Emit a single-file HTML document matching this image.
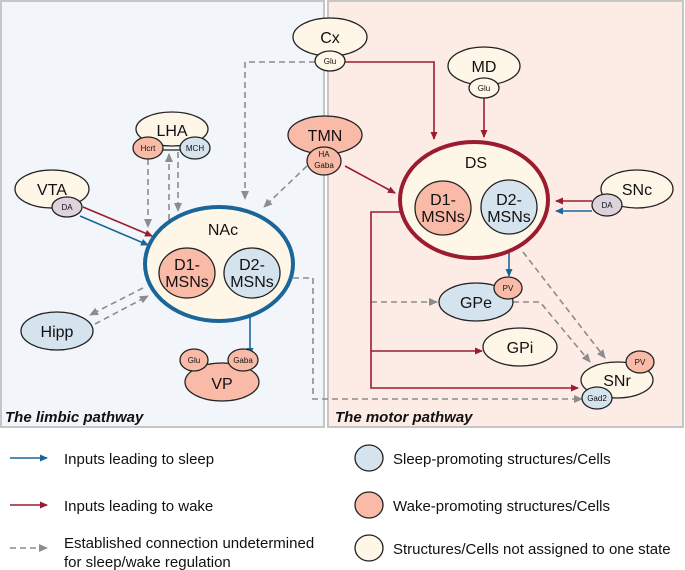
<!DOCTYPE html>
<html><head><meta charset="utf-8"><style>body{margin:0;background:#fff}svg{display:block}text{font-family:"Liberation Sans",sans-serif;fill:#111}</style></head><body>
<svg width="685" height="570" viewBox="0 0 685 570" xmlns="http://www.w3.org/2000/svg">
<defs>
<marker id="ar" markerWidth="8" markerHeight="8" refX="7" refY="4" orient="auto" markerUnits="userSpaceOnUse"><path d="M0,0.5 L8,4 L0,7.5z" fill="#9b1c2e"/></marker>
<marker id="ab" markerWidth="8" markerHeight="8" refX="7" refY="4" orient="auto" markerUnits="userSpaceOnUse"><path d="M0,0.5 L8,4 L0,7.5z" fill="#1a6699"/></marker>
<marker id="ag" markerWidth="9" markerHeight="9" refX="8" refY="4.5" orient="auto" markerUnits="userSpaceOnUse"><path d="M0,0.5 L9,4.5 L0,8.5z" fill="#8c8c8c"/></marker>
</defs>
<rect x="1" y="1" width="323" height="426" fill="#f2f6fa" stroke="#c6c6c6" stroke-width="2"/>
<rect x="328" y="1" width="355" height="426" fill="#fdece6" stroke="#c6c6c6" stroke-width="2"/>

<g fill="none" stroke-width="1.6">
<!-- gray dashed -->
<g stroke="#8c8c8c" stroke-dasharray="6,4">
<path d="M315,62 H245 V199" marker-end="url(#ag)"/>
<path d="M307,166 L264,207" marker-end="url(#ag)"/>
<path d="M148,159 V227" marker-end="url(#ag)"/>
<path d="M169,250 V154" marker-end="url(#ag)"/>
<path d="M178,152 V211" marker-end="url(#ag)"/>
<path d="M143,288 L90,315" marker-end="url(#ag)"/>
<path d="M95,324 L148,296" marker-end="url(#ag)"/>
<path d="M293,278 H313 V399 H582" marker-end="url(#ag)"/>
<path d="M371,302 H437" marker-end="url(#ag)"/>
<path d="M523,252 L605,358" marker-end="url(#ag)"/>
<path d="M513,302 H540 L590,362" marker-end="url(#ag)"/>
</g>
<g stroke="#9b1c2e">
<path d="M345,62 H434 V139" marker-end="url(#ar)"/>
<path d="M484,98 V137" marker-end="url(#ar)"/>
<path d="M345,166 L395,193" marker-end="url(#ar)"/>
<path d="M83,207 L152,236" marker-end="url(#ar)"/>
<path d="M413,212 H371 V388 H578" marker-end="url(#ar)"/>
<path d="M371,351 H482" marker-end="url(#ar)"/>
<path d="M592,201 H556" marker-end="url(#ar)"/>
</g>
<g stroke="#1a6699">
<path d="M80,216 L148,245" marker-end="url(#ab)"/>
<path d="M250,300 V355" marker-end="url(#ab)"/>
<path d="M509,234 V276" marker-end="url(#ab)"/>
<path d="M592,211 H556" marker-end="url(#ab)"/>
</g>
</g>

<g stroke="#222" stroke-width="1.3">
<!-- Cx -->
<ellipse cx="330" cy="37" rx="37" ry="19" fill="#fef7e8"/>
<ellipse cx="330" cy="61" rx="15" ry="10" fill="#fef7e8"/>
<!-- MD -->
<ellipse cx="484" cy="66" rx="36" ry="19" fill="#fef7e8"/>
<ellipse cx="484" cy="88" rx="15" ry="10" fill="#fef7e8"/>
<!-- LHA -->
<ellipse cx="172" cy="129" rx="36" ry="17" fill="#fef7e8"/>
<line x1="160" y1="150" x2="182" y2="150"/>
<ellipse cx="148" cy="148" rx="15" ry="11" fill="#f9bba7"/>
<ellipse cx="195" cy="148" rx="15" ry="11" fill="#d5e3ee"/>
<!-- TMN -->
<ellipse cx="325" cy="135" rx="37" ry="19" fill="#f9bba7"/>
<ellipse cx="324" cy="161" rx="17" ry="14" fill="#f9bba7"/>
<!-- VTA -->
<ellipse cx="52" cy="189" rx="37" ry="19" fill="#fef7e8"/>
<ellipse cx="67" cy="207" rx="15" ry="10" fill="#dcd3dc"/>
<!-- NAc -->
<ellipse cx="219" cy="264" rx="74" ry="57" fill="#fef7e8" stroke="#1a6699" stroke-width="4"/>
<ellipse cx="187" cy="273" rx="28" ry="25" fill="#f9bba7"/>
<ellipse cx="252" cy="273" rx="28" ry="25" fill="#d5e3ee"/>
<!-- Hipp -->
<ellipse cx="57" cy="331" rx="36" ry="19" fill="#d5e3ee"/>
<!-- VP -->
<ellipse cx="222" cy="382" rx="37" ry="19" fill="#f9bba7"/>
<ellipse cx="194" cy="360" rx="14" ry="11" fill="#f9bba7"/>
<ellipse cx="243" cy="360" rx="15" ry="11" fill="#f9bba7"/>
<!-- DS -->
<ellipse cx="474" cy="200" rx="74" ry="58" fill="#fef7e8" stroke="#9b1c2e" stroke-width="4"/>
<ellipse cx="443" cy="208" rx="28" ry="27" fill="#f9bba7"/>
<ellipse cx="509" cy="207" rx="28" ry="27" fill="#d5e3ee"/>
<!-- SNc -->
<ellipse cx="637" cy="189" rx="36" ry="19" fill="#fef7e8"/>
<ellipse cx="607" cy="205" rx="15" ry="11" fill="#dcd3dc"/>
<!-- GPe -->
<ellipse cx="476" cy="302" rx="37" ry="19" fill="#d5e3ee"/>
<ellipse cx="508" cy="288" rx="14" ry="11" fill="#f9bba7"/>
<!-- GPi -->
<ellipse cx="520" cy="347" rx="37" ry="19" fill="#fef7e8"/>
<!-- SNr -->
<ellipse cx="617" cy="380" rx="36" ry="18" fill="#fef7e8"/>
<ellipse cx="640" cy="362" rx="14" ry="11" fill="#f9bba7"/>
<ellipse cx="597" cy="398" rx="15" ry="11" fill="#d5e3ee"/>
</g>

<g text-anchor="middle" font-size="16">
<text x="330" y="43">Cx</text>
<text x="484" y="72">MD</text>
<text x="172" y="136">LHA</text>
<text x="325" y="141">TMN</text>
<text x="52" y="195">VTA</text>
<text x="223" y="235">NAc</text>
<text x="187" y="270">D1-</text><text x="187" y="287">MSNs</text>
<text x="252" y="270">D2-</text><text x="252" y="287">MSNs</text>
<text x="57" y="337">Hipp</text>
<text x="222" y="389">VP</text>
<text x="476" y="168">DS</text>
<text x="443" y="205">D1-</text><text x="443" y="222">MSNs</text>
<text x="509" y="205">D2-</text><text x="509" y="222">MSNs</text>
<text x="637" y="195">SNc</text>
<text x="476" y="308">GPe</text>
<text x="520" y="353">GPi</text>
<text x="617" y="386">SNr</text>
</g>
<g text-anchor="middle" font-size="8">
<text x="330" y="64">Glu</text>
<text x="484" y="91">Glu</text>
<text x="148" y="151">Hcrt</text>
<text x="195" y="151">MCH</text>
<text x="324" y="157">HA</text>
<text x="324" y="168">Gaba</text>
<text x="67" y="210">DA</text>
<text x="194" y="363">Glu</text>
<text x="243" y="363">Gaba</text>
<text x="607" y="208">DA</text>
<text x="508" y="291">PV</text>
<text x="640" y="365">PV</text>
<text x="597" y="401">Gad2</text>
</g>
<text x="5" y="422" font-size="15" font-weight="bold" font-style="italic">The limbic pathway</text>
<text x="335" y="422" font-size="15" font-weight="bold" font-style="italic">The motor pathway</text>

<!-- legend -->
<g fill="none" stroke-width="1.6">
<path d="M10,458 H47" stroke="#1a6699" marker-end="url(#ab)"/>
<path d="M10,505 H47" stroke="#9b1c2e" marker-end="url(#ar)"/>
<path d="M10,548 H47" stroke="#8c8c8c" stroke-dasharray="6,4" marker-end="url(#ag)"/>
</g>
<g font-size="15">
<text x="64" y="464">Inputs leading to sleep</text>
<text x="64" y="511">Inputs leading to wake</text>
<text x="64" y="548">Established connection undetermined</text>
<text x="64" y="567">for sleep/wake regulation</text>
<text x="393" y="464">Sleep-promoting structures/Cells</text>
<text x="393" y="511">Wake-promoting structures/Cells</text>
<text x="393" y="554">Structures/Cells not assigned to one state</text>
</g>
<g stroke="#222" stroke-width="1.3">
<ellipse cx="369" cy="458" rx="14" ry="13" fill="#d5e3ee"/>
<ellipse cx="369" cy="505" rx="14" ry="13" fill="#f9bba7"/>
<ellipse cx="369" cy="548" rx="14" ry="13" fill="#fef7e8"/>
</g>
</svg>
</body></html>
